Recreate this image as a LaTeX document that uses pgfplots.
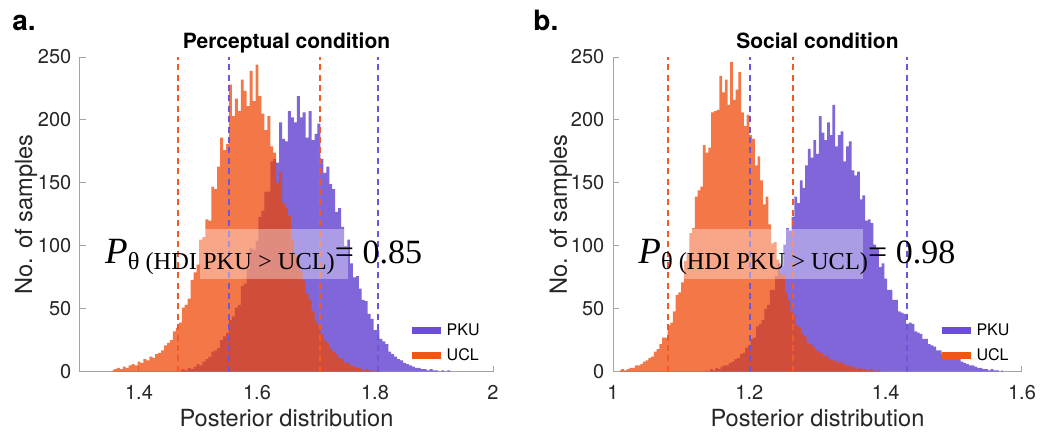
\documentclass[border=0pt]{standalone}
\usepackage{fontspec}
\setmainfont{TeX Gyre Heros}
\newfontfamily\annfont{Liberation Serif}
\usepackage{pgfplots}
\pgfplotsset{compat=1.18}
\definecolor{pku}{RGB}{128,102,216}
\definecolor{ucl}{RGB}{240,68,0}
\definecolor{pkuL}{RGB}{108,78,214}
\definecolor{uclL}{RGB}{242,86,16}
\definecolor{pkuD}{RGB}{108,86,222}
\definecolor{uclD}{RGB}{242,92,36}
\definecolor{axgray}{RGB}{165,165,165}
\pgfplotsset{
 every axis title shift=0pt,
 histax/.style={
  scale only axis, height=157.35pt,
  ymin=0, ymax=250, ytick={0,50,...,250},
  axis x line*=bottom, axis y line*=left,
  axis line style={axgray,-, line width=0.5pt},
  tick align=inside, major tick length=3pt, tick style={axgray, line width=0.5pt},
  /pgf/number format/assume math mode=true,
  ticklabel style={font=\fontsize{10}{12}\selectfont, text=black!85},
  xticklabel style={yshift=-3.2pt},
  yticklabel style={xshift=-0.8pt},
  xlabel={Posterior distribution},
  ylabel={No. of samples},
  xlabel style={font=\fontsize{11.8}{14}\selectfont, text=black!85, at={(axis description cs:0.5,0)}, anchor=base, yshift=-27.5pt},
  title style={at={(0.5,1)}, anchor=base, yshift=4.5pt, font=\bfseries\fontsize{10.5}{12}\selectfont},
  clip=false,
  legend cell align=left,
  legend style={draw=none, fill=none, inner sep=0pt, row sep=3pt, font=\fontsize{8}{8.5}\selectfont, anchor=south west, nodes={inner sep=1pt}},
  legend image code/.code={\draw[#1, line width=3.5pt] (0pt,0pt) -- (14.5pt,0pt);},
 },
 hdash/.style={line width=1pt, dash pattern=on 3pt off 2.2pt, forget plot},
}
\begin{document}
\begin{tikzpicture}
\path[use as bounding box] (-40pt,-32.15pt) rectangle (484.5pt,185.85pt);
% ---------------- panel a
\begin{axis}[histax, width=206.5pt, at={(0pt,0pt)}, anchor=south west,
  xmin=1.3, xmax=2, xtick={1.4,1.6,1.8,2},
  title={Perceptual condition},
  ylabel style={font=\fontsize{11.8}{14}\selectfont, text=black!85, at={(axis description cs:-0.116,0.5)}, anchor=base, rotate=0},
  legend style={at={(rel axis cs:0.795,0.02)}}]
\addplot[fill=pku, draw=none, const plot mark mid, forget plot] coordinates {
(1.470,1)(1.475,2)(1.480,1)(1.485,3)(1.490,2)(1.495,4)(1.500,6)(1.505,5)(1.510,8)(1.515,10)
(1.520,12)(1.525,16)(1.530,17)(1.535,19)(1.540,25)(1.545,28)(1.550,31)(1.555,41)(1.560,44)(1.565,51)
(1.570,53)(1.575,68)(1.580,70)(1.585,82)(1.590,98)(1.595,97)(1.600,104)(1.605,123)(1.610,128)(1.615,143)
(1.620,143)(1.625,167)(1.630,169)(1.635,166)(1.640,198)(1.645,185)(1.650,183)(1.655,207)(1.660,202)(1.665,198)
(1.670,219)(1.675,202)(1.680,206)(1.685,186)(1.690,207)(1.695,184)(1.700,189)(1.705,197)(1.710,169)(1.715,158)
(1.720,163)(1.725,149)(1.730,145)(1.735,127)(1.740,130)(1.745,115)(1.750,100)(1.755,105)(1.760,86)(1.765,75)
(1.770,76)(1.775,66)(1.780,57)(1.785,56)(1.790,46)(1.795,42)(1.800,33)(1.805,33)(1.810,26)(1.815,24)
(1.820,22)(1.825,16)(1.830,14)(1.835,12)(1.840,10)(1.845,9)(1.850,7)(1.855,6)(1.860,5)(1.865,4)
(1.870,3)(1.875,3)(1.880,2)(1.885,2)(1.890,1)(1.895,2)(1.900,1)(1.905,1)(1.910,0)(1.915,1)
(1.920,0)(1.925,1)(1.930,0)} \closedcycle;
\addplot[fill=ucl, fill opacity=0.72, draw=none, const plot mark mid, forget plot] coordinates {
(1.355,1)(1.360,2)(1.365,3)(1.370,2)(1.375,4)(1.380,3)(1.385,5)(1.390,6)(1.395,5)(1.400,8)
(1.405,7)(1.410,10)(1.415,9)(1.420,12)(1.425,11)(1.430,14)(1.435,15)(1.440,17)(1.445,21)(1.450,23)
(1.455,25)(1.460,32)(1.465,35)(1.470,39)(1.475,51)(1.480,53)(1.485,58)(1.490,73)(1.495,79)(1.500,85)
(1.505,105)(1.510,107)(1.515,121)(1.520,120)(1.525,147)(1.530,145)(1.535,163)(1.540,186)(1.545,176)(1.550,181)
(1.555,228)(1.560,203)(1.565,217)(1.570,207)(1.575,232)(1.580,223)(1.585,211)(1.590,239)(1.595,215)(1.600,244)
(1.605,219)(1.610,205)(1.615,192)(1.620,203)(1.625,179)(1.630,174)(1.635,150)(1.640,159)(1.645,134)(1.650,130)
(1.655,124)(1.660,105)(1.665,93)(1.670,88)(1.675,80)(1.680,72)(1.685,62)(1.690,57)(1.695,48)(1.700,40)
(1.705,37)(1.710,30)(1.715,25)(1.720,23)(1.725,19)(1.730,16)(1.735,14)(1.740,11)(1.745,10)(1.750,7)
(1.755,7)(1.760,5)(1.765,4)(1.770,3)(1.775,3)(1.780,1)(1.785,2)(1.790,1)(1.795,1)(1.800,0)(1.805,1)} \closedcycle;
\addplot[uclD, hdash] coordinates {(1.466,0) (1.466,250)};
\addplot[pkuD, hdash] coordinates {(1.553,0) (1.553,250)};
\addplot[uclD, hdash] coordinates {(1.706,0) (1.706,250)};
\addplot[pkuD, hdash] coordinates {(1.805,0) (1.805,250)};
\fill[white, fill opacity=0.35] (axis cs:1.503,73.6) rectangle (axis cs:1.754,113.4);
\node[anchor=base west, inner sep=0pt, font=\annfont\fontsize{17}{18}\selectfont] at (axis cs:1.342,86.1)
  {{\fontsize{18.5}{19}\selectfont\textit{P}}\raisebox{-2.9pt}{\fontsize{12.2}{13}\selectfont θ (HDI PKU > UCL)}= 0.85};
\addlegendimage{pkuL}\addlegendentry{PKU}
\addlegendimage{uclL}\addlegendentry{UCL}
\end{axis}
\node[anchor=base west, inner sep=0pt, font=\bfseries\fontsize{14}{16}\selectfont] at (-34pt,170.85pt) {a.};
% ---------------- panel b
\begin{axis}[histax, width=204.5pt, at={(266.5pt,0pt)}, anchor=south west,
  xmin=1, xmax=1.6, xtick={1,1.2,1.4,1.6},
  title={Social condition},
  ylabel style={font=\fontsize{11.8}{14}\selectfont, text=black!85, at={(axis description cs:-0.1125,0.5)}, anchor=base, rotate=0},
  legend style={at={(rel axis cs:0.795,0.02)}}]
\addplot[fill=pku, draw=none, const plot mark mid, forget plot] coordinates {
(1.136,1)(1.140,0)(1.144,2)(1.148,1)(1.152,3)(1.156,2)(1.160,4)(1.164,5)(1.168,5)(1.172,7)
(1.176,8)(1.180,10)(1.184,11)(1.188,14)(1.192,15)(1.196,19)(1.200,21)(1.204,26)(1.208,27)(1.212,36)
(1.216,38)(1.220,41)(1.224,50)(1.228,53)(1.232,65)(1.236,65)(1.240,76)(1.244,86)(1.248,84)(1.252,101)
(1.256,114)(1.260,112)(1.264,123)(1.268,139)(1.272,134)(1.276,152)(1.280,146)(1.284,164)(1.288,177)(1.292,170)
(1.296,184)(1.300,173)(1.304,203)(1.308,190)(1.312,184)(1.316,198)(1.320,188)(1.324,212)(1.328,179)(1.332,188)
(1.336,191)(1.340,167)(1.344,179)(1.348,183)(1.352,160)(1.356,156)(1.360,159)(1.364,137)(1.368,140)(1.372,120)
(1.376,121)(1.380,118)(1.384,101)(1.388,98)(1.392,83)(1.396,86)(1.400,74)(1.404,65)(1.408,65)(1.412,57)
(1.416,57)(1.420,48)(1.424,47)(1.428,46)(1.432,38)(1.436,39)(1.440,38)(1.444,32)(1.448,31)(1.452,30)
(1.456,26)(1.460,26)(1.464,22)(1.468,21)(1.472,20)(1.476,17)(1.480,17)(1.484,14)(1.488,15)(1.492,13)
(1.496,12)(1.500,11)(1.504,10)(1.508,10)(1.512,8)(1.516,7)(1.520,6)(1.524,5)(1.528,5)(1.532,4)
(1.536,3)(1.540,3)(1.544,2)(1.548,2)(1.552,1)(1.556,2)(1.560,1)(1.564,1)(1.568,0)(1.572,1)} \closedcycle;
\addplot[fill=ucl, fill opacity=0.72, draw=none, const plot mark mid, forget plot] coordinates {
(1.010,1)(1.014,2)(1.018,1)(1.022,2)(1.026,3)(1.030,3)(1.034,5)(1.038,5)(1.042,6)(1.046,8)
(1.050,9)(1.054,11)(1.058,12)(1.062,16)(1.066,18)(1.070,22)(1.074,27)(1.078,27)(1.082,37)(1.086,39)
(1.090,48)(1.094,61)(1.098,63)(1.102,71)(1.106,88)(1.110,94)(1.114,110)(1.118,114)(1.122,139)(1.126,144)
(1.130,147)(1.134,180)(1.138,174)(1.142,178)(1.146,206)(1.150,207)(1.154,208)(1.158,235)(1.162,222)(1.166,232)
(1.170,212)(1.174,246)(1.178,216)(1.182,224)(1.186,238)(1.190,206)(1.194,195)(1.198,204)(1.202,188)(1.206,185)
(1.210,164)(1.214,171)(1.218,152)(1.222,133)(1.226,139)(1.230,117)(1.234,102)(1.238,103)(1.242,89)(1.246,78)
(1.250,77)(1.254,63)(1.258,57)(1.262,48)(1.266,45)(1.270,37)(1.274,35)(1.278,30)(1.282,28)(1.286,23)
(1.290,22)(1.294,20)(1.298,17)(1.302,16)(1.306,15)(1.310,12)(1.314,13)(1.318,10)(1.322,9)(1.326,9)
(1.330,7)(1.334,8)(1.338,6)(1.342,5)(1.346,5)(1.350,4)(1.354,4)(1.358,2)(1.362,3)(1.366,2)
(1.370,2)(1.374,1)(1.378,2)(1.382,1)(1.386,0)(1.390,1)(1.394,0)} \closedcycle;
\addplot[uclD, hdash] coordinates {(1.081,0) (1.081,250)};
\addplot[pkuD, hdash] coordinates {(1.201,0) (1.201,250)};
\addplot[uclD, hdash] coordinates {(1.264,0) (1.264,250)};
\addplot[pkuD, hdash] coordinates {(1.432,0) (1.432,250)};
\fill[white, fill opacity=0.35] (axis cs:1.103,73.6) rectangle (axis cs:1.367,113.4);
\node[anchor=base west, inner sep=0pt, font=\annfont\fontsize{17}{18}\selectfont] at (axis cs:1.0367,86.1)
  {{\fontsize{18.5}{19}\selectfont\textit{P}}\raisebox{-2.9pt}{\fontsize{12.2}{13}\selectfont θ (HDI PKU > UCL)}= 0.98};
\addlegendimage{pkuL}\addlegendentry{PKU}
\addlegendimage{uclL}\addlegendentry{UCL}
\end{axis}
\node[anchor=base west, inner sep=0pt, font=\bfseries\fontsize{14}{16}\selectfont] at (226.5pt,170.85pt) {b.};
\end{tikzpicture}
\end{document}
